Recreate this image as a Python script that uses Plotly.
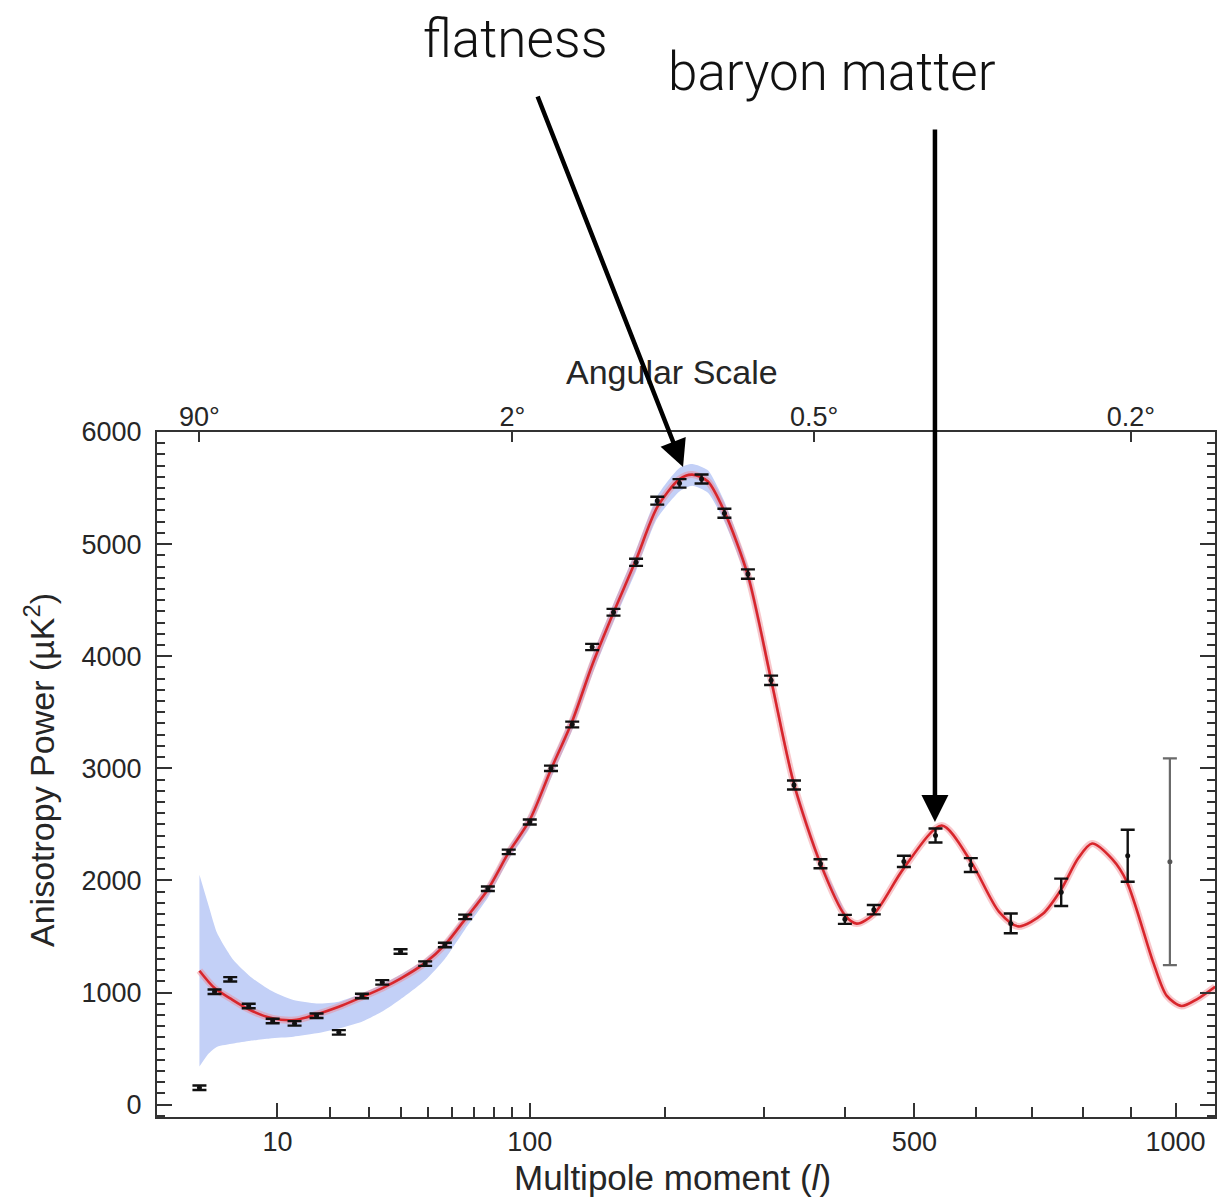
import plotly.graph_objects as go

# ---------------- data ----------------
# binned anisotropy power spectrum points
ell = [2, 3, 4.3, 6.2, 9.3, 12.8, 17, 22, 28, 34, 40, 49, 57, 66, 77, 88, 100,
       113, 127, 141, 157, 175, 193, 213, 234, 257, 282, 308, 335, 368, 400,
       440, 484, 533, 591, 661, 756, 893]
power = [151, 1007, 1118, 880, 746, 725, 793, 645, 969, 1091, 1366, 1258, 1424,
         1675, 1926, 2255, 2521, 3000, 3391, 4082, 4392, 4838, 5387, 5542, 5581,
         5275, 4733, 3785, 2851, 2149, 1653, 1739, 2170, 2401, 2137, 1617, 1894,
         2220]
err = [20, 20, 20, 20, 20, 20, 20, 20, 20, 20, 20, 20, 20, 20, 20, 20, 22,
       24, 26, 28, 30, 32, 35, 38, 40, 40, 42, 42, 40, 40, 40, 42, 50, 62, 62,
       88, 122, 232]
# last, grey point
ell_last = [987]
power_last = [2167]
err_last = [922]

# best-fit model curve
model_l = [2, 3, 4.3, 6.2, 9.3, 12.8, 17, 22, 28, 34, 40, 49, 57, 66, 77, 88, 100,
           113, 127, 141, 157, 175, 193, 213, 225, 240, 257, 282, 308, 335, 368,
           400, 416, 440, 484, 543, 591, 640, 675, 720, 756, 790, 818, 860, 891,
           950, 980, 1014, 1050, 1094]
model_p = [1195, 1040, 948, 850, 770, 755, 805, 873, 960, 1040, 1125, 1265, 1425,
           1655, 1920, 2250, 2540, 2990, 3420, 3920, 4390, 4860, 5330, 5580, 5620,
           5560, 5290, 4720, 3790, 2860, 2150, 1690, 1615, 1700, 2110, 2490, 2170,
           1720, 1590, 1700, 1920, 2200, 2330, 2190, 1990, 1260, 970, 880, 940, 1052]

# cosmic-variance band
band_l = [2, 2.6, 3.2, 4.6, 6.4, 8.9, 12.6, 17, 22, 28, 34, 40, 49, 57, 66, 77, 88,
          100, 113, 127, 141, 157, 175, 193, 213, 225, 240, 257, 282, 308, 335,
          368, 400]
band_lo = [340, 458, 517, 546, 570, 591, 606, 636, 680, 740, 830, 940, 1110, 1300,
           1565, 1845, 2185, 2470, 2910, 3340, 3830, 4300, 4760, 5230, 5470, 5520,
           5460, 5200, 4650, 3730, 2810, 2110, 1660]
band_hi = [2050, 1765, 1528, 1290, 1142, 1023, 933, 903, 919, 993, 1075, 1160, 1300,
           1460, 1695, 1965, 2295, 2595, 3050, 3490, 4000, 4470, 4950, 5430, 5680,
           5715, 5660, 5380, 4800, 3850, 2910, 2190, 1720]

# axis ticks
major_l = [10, 100, 500, 1000]
major_txt = ["10", "100", "500", "1000"]
minor_l = [20, 30, 40, 50, 60, 70, 80, 90, 200, 300, 400, 600, 700, 800, 900]
angle_l = [2, 90, 360, 900]
angle_txt = ["90°", "2°", "0.5°", "0.2°"]

# ---------------- axis scale (power-law compressed multipole axis) -------------
P = 0.408


def T(vals):
    return [v ** P for v in vals]


XR = [0.6563, 17.373]
YR = [-110, 6000]

TXT = "#262626"
LINE = "#333333"
FONT = "Liberation Sans, Arial, Helvetica, sans-serif"
LIGHT = "Roboto, Helvetica Neue, sans-serif"

fig = go.Figure()

# band
fig.add_trace(go.Scatter(
    x=T(band_l) + T(band_l[::-1]), y=band_hi + band_lo[::-1],
    fill="toself", fillcolor="#c3d0f7", line=dict(width=0, shape="spline", smoothing=0.6),
    mode="lines", hoverinfo="skip", showlegend=False))

# model curve with halo
fig.add_trace(go.Scatter(
    x=T(model_l), y=model_p, mode="lines",
    line=dict(color="rgba(240,130,140,0.45)", width=7, shape="spline", smoothing=0.8),
    hoverinfo="skip", showlegend=False))
fig.add_trace(go.Scatter(
    x=T(model_l), y=model_p, mode="lines",
    line=dict(color="#d8262c", width=2.6, shape="spline", smoothing=0.8),
    showlegend=False))

# data points
fig.add_trace(go.Scatter(
    x=T(ell), y=power, mode="markers",
    marker=dict(color="#111111", size=5),
    error_y=dict(type="data", array=err, color="#111111", thickness=2.4, width=7),
    showlegend=False))
fig.add_trace(go.Scatter(
    x=T(ell_last), y=power_last, mode="markers",
    marker=dict(color="#555555", size=5),
    error_y=dict(type="data", array=err_last, color="#6a6a6a", thickness=2.2, width=7),
    showlegend=False))

# invisible trace on top axis
fig.add_trace(go.Scatter(x=T(angle_l), y=[None] * len(angle_l), xaxis="x2",
                         mode="markers", showlegend=False, hoverinfo="skip"))

fig.update_layout(
    width=1230, height=1201,
    margin=dict(l=157, r=15, t=432, b=84),
    paper_bgcolor="white", plot_bgcolor="white",
    xaxis=dict(
        range=XR, tickmode="array", tickvals=T(major_l), ticktext=major_txt,
        ticks="inside", ticklen=14, tickwidth=2, tickcolor=LINE,
        showline=True, linewidth=2, linecolor=LINE, mirror=True,
        showgrid=False, zeroline=False,
        tickfont=dict(family=FONT, size=27, color=TXT),
        minor=dict(tickmode="array", tickvals=T(minor_l), ticks="inside", ticklen=10,
                   tickwidth=2, tickcolor=LINE),
    ),
    xaxis2=dict(
        overlaying="x", side="top", range=XR, tickmode="array",
        tickvals=T(angle_l), ticktext=angle_txt,
        ticks="inside", ticklen=10, tickwidth=2, tickcolor=LINE,
        showline=False, showgrid=False, zeroline=False,
        tickfont=dict(family=FONT, size=27, color=TXT),
    ),
    yaxis=dict(
        range=YR, tickmode="array", tickvals=[0, 1000, 2000, 3000, 4000, 5000, 6000],
        ticks="inside", ticklen=15, tickwidth=2, tickcolor=LINE,
        showline=True, linewidth=2, linecolor=LINE, mirror="ticks",
        showgrid=False, zeroline=False, ticklabelstandoff=8,
        tickfont=dict(family=FONT, size=27, color=TXT),
        minor=dict(dtick=100, tick0=0, ticks="inside", ticklen=8, tickwidth=2,
                   tickcolor=LINE),
    ),
)

ann_font = dict(family=FONT, size=34, color=TXT)
annotations = [
    dict(text="Angular Scale", x=0.4868, y=1.0876, xref="paper", yref="paper",
         xanchor="center", yanchor="middle", showarrow=False, font=ann_font),
    dict(text="Multipole moment (<i>l</i>)", x=0.4868, y=-0.089, xref="paper",
         yref="paper", xanchor="center", yanchor="middle", showarrow=False,
         font=dict(family=FONT, size=35, color=TXT)),
    dict(text="Anisotropy Power (µK<sup>2</sup>)", x=-0.1106, y=0.5066,
         xref="paper", yref="paper", xanchor="center", yanchor="middle",
         showarrow=False, textangle=-90, font=ann_font),
    dict(text="flatness", x=0.3393, y=1.5737, xref="paper", yref="paper",
         xanchor="center", yanchor="middle", showarrow=False,
         font=dict(family=LIGHT, size=53, color="#111111", weight=300)),
    dict(text="baryon matter", x=0.638, y=1.5255, xref="paper", yref="paper",
         xanchor="center", yanchor="middle", showarrow=False,
         font=dict(family=LIGHT, size=53, color="#111111", weight=300)),
    dict(text="", x=0.4972, y=0.9489, xref="paper", yref="paper",
         showarrow=True, ax=-146, ay=-372, arrowhead=2, arrowsize=1.2,
         arrowwidth=4.5, arrowcolor="#000000"),
    dict(text="", x=0.7353, y=0.4307, xref="paper", yref="paper",
         showarrow=True, ax=0, ay=-694, arrowhead=2, arrowsize=1.2,
         arrowwidth=4.5, arrowcolor="#000000"),
]
fig.update_layout(annotations=annotations)

fig.write_html("out.html")
